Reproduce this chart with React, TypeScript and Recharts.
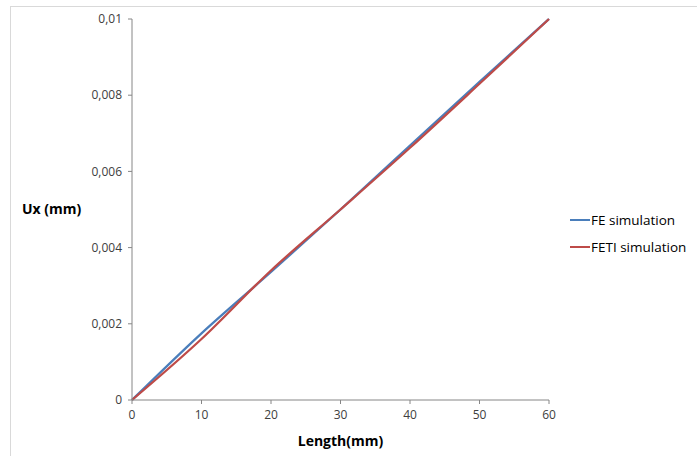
import { LineChart, Line, XAxis, YAxis } from "recharts"

const lengths = [0, 10, 20, 30, 40, 50, 60]
const feValues = [0, 0.00175, 0.00336, 0.005, 0.00668, 0.00835, 0.01]
const fetiValues = [0, 0.0016, 0.0034, 0.005, 0.00662, 0.0083, 0.01]
const xTicks = [0, 10, 20, 30, 40, 50, 60]
const yTicks = [0, 0.002, 0.004, 0.006, 0.008, 0.01]

const data = lengths.map((len, i) => ({
  len,
  fe: feValues[i],
  feti: fetiValues[i],
}))

const font = "'Open Sans', 'Liberation Sans', sans-serif"
const axisGray = "#868686"
const textGray = "#404040"

const series = [
  { key: "fe", name: "FE simulation", color: "#4a7ebb" },
  { key: "feti", name: "FETI simulation", color: "#be4b48" },
]

export default function App() {
  return (
    <div style={{ position: "absolute", left: 0, top: 0, width: 697, height: 456, background: "#fff", overflow: "hidden" }}>
      <div
        style={{
          position: "absolute",
          left: 10,
          top: 6,
          width: 720,
          height: 480,
          border: "1px solid #d9d9d9",
        }}
      />
      <div style={{ position: "absolute", left: 0, top: 0 }}>
        <LineChart width={697} height={456} data={data} margin={{ top: 19, right: 148, bottom: 0, left: 0 }}>
          <XAxis
            dataKey="len"
            type="number"
            domain={[0, 60]}
            ticks={xTicks}
            height={56}
            stroke={axisGray}
            tickSize={4}
            tickMargin={6}
            tick={{ fill: textGray, fontSize: 12, fontFamily: font }}
            label={{
              value: "Length(mm)",
              position: "insideBottom",
              offset: 10,
              fill: "#000",
              fontSize: 14,
              fontWeight: "bold",
              fontFamily: font,
            }}
          />
          <YAxis
            type="number"
            domain={[0, 0.01]}
            ticks={yTicks}
            width={132}
            stroke={axisGray}
            tickSize={4}
            tickMargin={6}
            tickFormatter={(v: number) => String(v).replace(".", ",")}
            tick={{ fill: textGray, fontSize: 12, fontFamily: font }}
            label={{
              value: "Ux (mm)",
              position: "insideLeft",
              offset: 22,
              fill: "#000",
              fontSize: 14,
              fontWeight: "bold",
              fontFamily: font,
            }}
          />
          {series.map((s) => (
            <Line
              key={s.key}
              type="monotone"
              dataKey={s.key}
              name={s.name}
              stroke={s.color}
              strokeWidth={2.25}
              dot={false}
              isAnimationActive={false}
            />
          ))}
        </LineChart>
      </div>
      <div style={{ position: "absolute", left: 570, top: 206, fontFamily: font, fontSize: 13.5, color: "#000" }}>
        {series.map((s) => (
          <div key={s.key} style={{ display: "flex", alignItems: "center", height: 27, whiteSpace: "nowrap" }}>
            <div style={{ width: 20, height: 2, background: s.color, marginRight: 1 }} />
            <span>{s.name}</span>
          </div>
        ))}
      </div>
    </div>
  )
}
